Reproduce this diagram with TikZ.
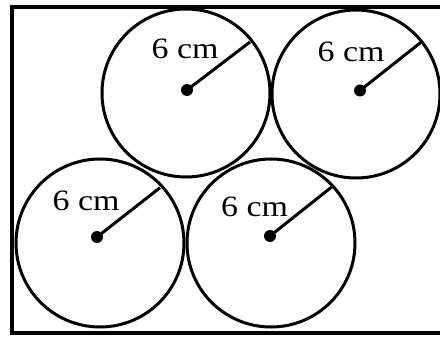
\documentclass[tikz,border=0pt]{standalone}
\usepackage{fontspec}
\newfontfamily\labfont[FakeStretch=1.15]{Liberation Serif}
\begin{document}
\begin{tikzpicture}[x=1pt,y=-1pt,
  ring/.style={draw=black,line width=3pt},
  frame/.style={draw=black,line width=4pt},
  radius line/.style={draw=black,line width=3pt},
  ctr/.style={circle,fill=black,inner sep=0pt,minimum size=12pt},
  lab/.style={anchor=base west,inner sep=0pt,font=\labfont\fontsize{29.5}{34}\selectfont}]
\useasboundingbox (0,0) rectangle (440,337);
\fill[white] (0,0) rectangle (440,337);
% frame (right side runs past the picture edge)
\draw[frame] (441,7) -- (12,7) -- (12,333) -- (441,333);
% circles
\coordinate (cTL) at (186,93);
\coordinate (cTR) at (356,94);
\coordinate (cBL) at (100,243);
\coordinate (cBR) at (271,243);
\draw[ring] (cTL) circle[radius=84];
\draw[ring] (cTR) circle[radius=84];
\draw[ring] (cBL) circle[radius=84];
\draw[ring] (cBR) circle[radius=84];
% centre dots
\node[ctr] (dTL) at (187,90) {};
\node[ctr] (dTR) at (360,90.5) {};
\node[ctr] (dBL) at (97,237) {};
\node[ctr] (dBR) at (270,236) {};
% radius end points
\coordinate (eTL) at (250,42);
\coordinate (eTR) at (421.7,41.7);
\coordinate (eBL) at (160,187.7);
\coordinate (eBR) at (331.7,187);
\draw[radius line] (dTL.center) -- (eTL);
\draw[radius line] (dTR.center) -- (eTR);
\draw[radius line] (dBL.center) -- (eBL);
\draw[radius line] (dBR.center) -- (eBR);
% labels
\node[lab] (lTL) at (151.5,58.3) {6 cm};
\node[lab] (lTR) at (317.5,61.7) {6 cm};
\node[lab] (lBL) at (52.5,210.3) {6 cm};
\node[lab] (lBR) at (221,216.5) {6 cm};
\end{tikzpicture}
\end{document}
